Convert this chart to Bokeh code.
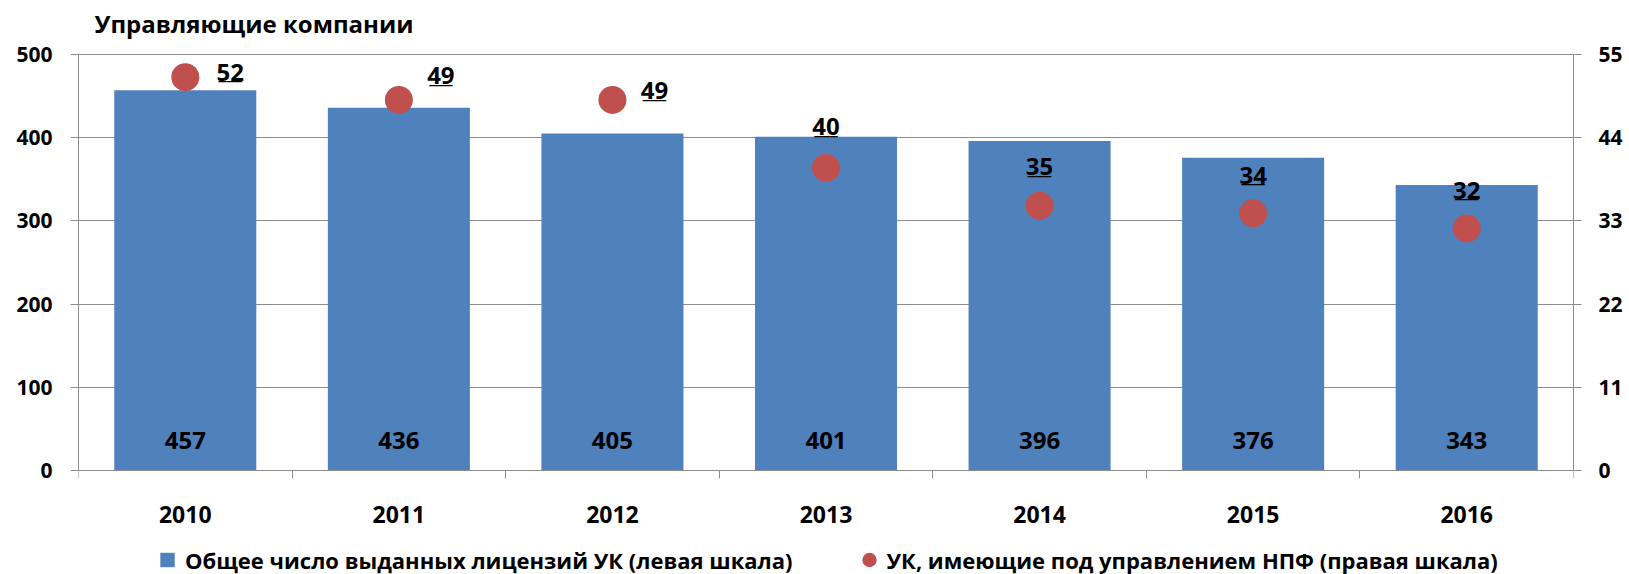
from bokeh.plotting import figure
from bokeh.models import Range1d, LinearAxis, FixedTicker, ColumnDataSource, Legend, LegendItem, Label
from bokeh.core.properties import value
from bokeh.embed import file_html
from bokeh.resources import INLINE

# ---- data ----
years = ["2010", "2011", "2012", "2013", "2014", "2015", "2016"]
licenses = [457, 436, 405, 401, 396, 376, 343]
npf_uk = [52, 49, 49, 40, 35, 34, 32]
left_ticks = [0, 100, 200, 300, 400, 500]
right_ticks = [0, 11, 22, 33, 44, 55]
title_text = "Управляющие компании"
legend_bar = "Общее число выданных лицензий УК (левая шкала)"
legend_dot = "УК, имеющие под управлением НПФ (правая шкала)"

# ---- label placement (pixel offsets, style only) ----
lbl_dx = [45, 42, 42, 0, 0, 0, 0]
lbl_dy = [-5, -24, -9, -41, -39, -38, -38]

FONT = "Open Sans"
BLUE = "#4F81BD"
RED = "#C0504D"
GRID = "#8C8C8C"

# ---- layout (pixels) ----
W, H = 1629, 574
TOP_Y = 54              # pixel row of the top gridline
ZERO_Y = 470            # pixel row of the zero line
px_below = H - ZERO_Y   # room under the zero line for labels and legend
span = ZERO_Y - TOP_Y
LEFT_MAX, RIGHT_MAX = left_ticks[-1], right_ticks[-1]
left_range = (-LEFT_MAX * px_below / span, LEFT_MAX + LEFT_MAX * TOP_Y / span)
right_range = (-RIGHT_MAX * px_below / span, RIGHT_MAX + RIGHT_MAX * TOP_Y / span)

xpos = [i + 0.5 for i in range(len(years))]
src = ColumnDataSource(dict(
    x=xpos, lic=licenses, lic_txt=[str(v) for v in licenses],
    npf=npf_uk, npf_txt=[str(v) for v in npf_uk],
    ul=["___"] * len(years), dx=lbl_dx, dy=lbl_dy,
))

p = figure(width=W, height=H, x_range=Range1d(0, len(years)),
           y_range=Range1d(*left_range),
           output_backend="svg", toolbar_location=None,
           min_border_left=78, min_border_right=56, min_border_top=0, min_border_bottom=0)
p.extra_y_ranges = {"r": Range1d(*right_range)}
p.outline_line_color = None
p.background_fill_color = "white"
p.title.visible = False

# title (placed inside the canvas-high plot area)
p.add_layout(Label(x=16, y=H - 23, x_units="screen", y_units="screen", text=title_text,
                   text_font=FONT, text_font_style="bold", text_font_size="24px",
                   text_color="black", text_align="left", text_baseline="middle"))

# grid
p.xgrid.visible = False
p.ygrid.ticker = FixedTicker(ticks=left_ticks)
p.ygrid.grid_line_color = GRID
p.ygrid.grid_line_width = 1

# left axis
ya = p.yaxis[0]
ya.ticker = FixedTicker(ticks=left_ticks)
ya.bounds = (0, LEFT_MAX)
ya.axis_line_color = GRID
ya.major_tick_line_color = GRID
ya.major_tick_out = 8
ya.major_tick_in = 0
ya.minor_tick_line_color = None
ya.major_label_standoff = 18
ya.major_label_text_font = FONT
ya.major_label_text_font_style = "bold"
ya.major_label_text_font_size = "21px"
ya.major_label_text_color = "black"

# right axis
ra = LinearAxis(y_range_name="r", ticker=FixedTicker(ticks=right_ticks), bounds=(0, RIGHT_MAX))
ra.axis_line_color = GRID
ra.major_tick_line_color = GRID
ra.major_tick_out = 8
ra.major_tick_in = 0
ra.minor_tick_line_color = None
ra.major_label_standoff = 17
ra.major_label_text_font = FONT
ra.major_label_text_font_style = "bold"
ra.major_label_text_font_size = "21px"
ra.major_label_text_color = "black"
p.add_layout(ra, "right")

# bottom axis at the zero line: labels at centers, tick marks at category boundaries
xa = p.xaxis[0]
xa.fixed_location = 0
xa.ticker = FixedTicker(ticks=xpos, minor_ticks=list(range(len(years) + 1)))
xa.major_label_overrides = {xv: y for xv, y in zip(xpos, years)}
xa.major_tick_out = 0
xa.major_tick_in = 0
xa.major_tick_line_color = None
xa.minor_tick_out = 8
xa.minor_tick_in = 0
xa.minor_tick_line_color = GRID
xa.axis_line_color = GRID
xa.major_label_standoff = 27
xa.major_label_text_font = FONT
xa.major_label_text_font_style = "bold"
xa.major_label_text_font_size = "23px"
xa.major_label_text_color = "black"

# bars
bars = p.vbar(x="x", top="lic", bottom=0, width=0.665, source=src, fill_color=BLUE, line_color=None)
p.text(x="x", y=0, text="lic_txt", source=src, y_offset=-30,
       text_align="center", text_baseline="alphabetic",
       text_font=value(FONT), text_font_style="bold", text_font_size="24px", text_color="black")

# dots (right scale)
dots = p.scatter(x="x", y="npf", source=src, y_range_name="r", size=28,
                 fill_color=RED, line_color=None)
p.text(x="x", y="npf", text="npf_txt", source=src, y_range_name="r",
       x_offset="dx", y_offset="dy", text_align="center", text_baseline="alphabetic",
       text_font=value(FONT), text_font_style="bold", text_font_size="24px", text_color="black")
p.text(x="x", y="npf", text="ul", source=src, y_range_name="r",
       x_offset="dx", y_offset="dy", text_align="center", text_baseline="alphabetic",
       text_font=value(FONT), text_font_style="bold", text_font_size="19px", text_color="black")

# legend: zero-size square markers stand in for the bars in the key
proxy = p.scatter(x="x", y="lic", source=src, size=0, marker="square",
                  fill_color=BLUE, line_color=None)
legend = Legend(items=[LegendItem(label=legend_bar, renderers=[proxy]),
                       LegendItem(label=legend_dot, renderers=[dots])],
                orientation="horizontal", location=(71, -7),
                glyph_width=36, glyph_height=43, label_standoff=0, spacing=58,
                padding=0, margin=0, border_line_color=None, background_fill_alpha=0,
                label_text_font=FONT, label_text_font_style="bold",
                label_text_font_size="22px", label_text_color="black")
p.add_layout(legend, "center")

open("out.html", "w").write(file_html(p, INLINE))
